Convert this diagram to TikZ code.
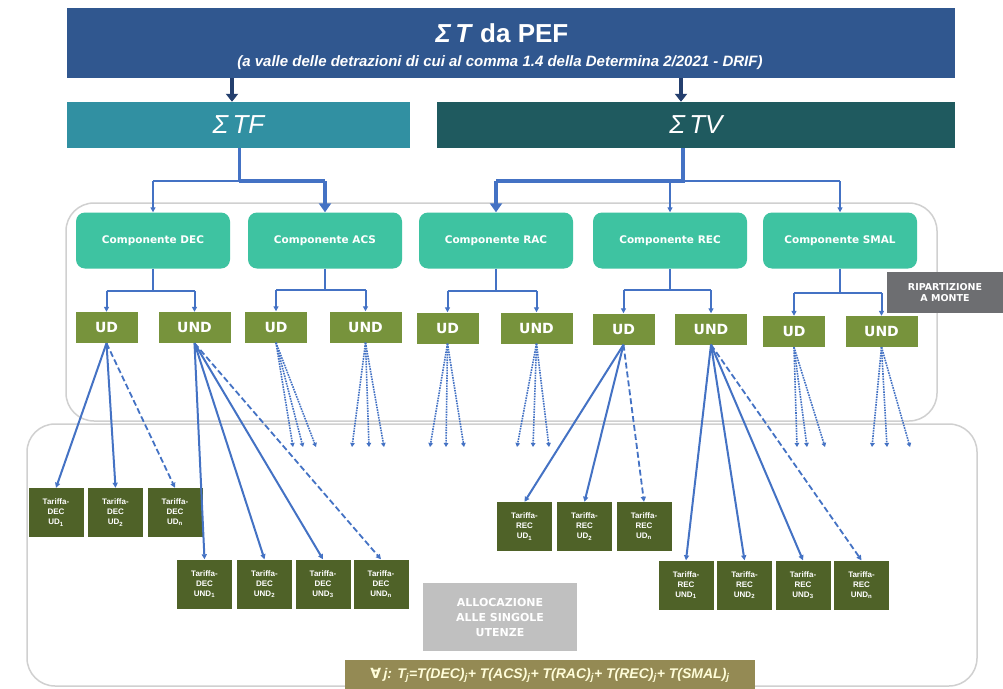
\documentclass[tikz,border=0pt]{standalone}
\usepackage{fontspec}
\setmainfont{Liberation Sans}
\newfontfamily\dejavu{DejaVu Sans}
\usetikzlibrary{arrows.meta}
\definecolor{topc}{HTML}{30578F}
\definecolor{tfc}{HTML}{3190A2}
\definecolor{tvc}{HTML}{1F5A5F}
\definecolor{compc}{HTML}{3EC3A1}
\definecolor{udc}{HTML}{77933C}
\definecolor{tarc}{HTML}{4F6228}
\definecolor{arrc}{HTML}{4472C4}
\definecolor{navy}{HTML}{243F6E}
\definecolor{ripc}{HTML}{6D6E71}
\definecolor{allc}{HTML}{C0C0C0}
\definecolor{formc}{HTML}{948A54}
\definecolor{frmc}{HTML}{D0D0D0}
\tikzset{
  comp/.style={fill=compc, rounded corners=9pt, minimum width=154pt, minimum height=56pt, inner sep=0pt, text=white, font=\dejavu\bfseries\fontsize{10.5}{12}\selectfont},
  udbox/.style={fill=udc, minimum height=31pt, inner sep=0pt, text=white, font=\dejavu\bfseries\fontsize{14}{16}\selectfont},
  ud/.style={udbox, minimum width=62pt},
  und/.style={udbox, minimum width=72pt},
  tar/.style={fill=tarc, minimum width=55pt, minimum height=49pt, inner sep=0pt, text=white, align=center, font=\bfseries\fontsize{8}{10}\selectfont},
  conn/.style={draw=arrc, line width=2pt, -{Triangle[length=5pt,width=5pt]}},
  thick conn/.style={draw=arrc, line width=4pt, -{Triangle[length=9pt,width=12pt]}},
  lin/.style={draw=arrc, line width=3pt},
  dconn/.style={draw=arrc, line width=1.8pt, dash pattern=on 6pt off 3pt, -{Triangle[length=5pt,width=5pt]}},
  dots/.style={draw=arrc, line width=1.6pt, densely dotted, -{Triangle[length=4pt,width=4.5pt]}},
  toparr/.style={draw=navy, line width=3.5pt, -{Triangle[length=8pt,width=12pt]}},
  frame/.style={draw=frmc, line width=1.5pt, rounded corners=28pt}
}
\begin{document}
\begin{tikzpicture}[x=1pt,y=-1pt]
\useasboundingbox (0,0) rectangle (1003,688);
\fill[white] (0,0) rectangle (1003,688);
% frames
\draw[frame] (66,203) rectangle (937,421);
\draw[frame] (27,424) rectangle (977,686);
% top boxes
\node[fill=topc, minimum width=888pt, minimum height=70pt, inner sep=0pt] (top) at (511,43) {};
\node[text=white, font=\bfseries\fontsize{26}{28}\selectfont] (ttl) at (502,33) {\textit{Σ\,T} da PEF};
\node[text=white, font=\bfseries\itshape\fontsize{15}{17}\selectfont] (sub) at (500,63) {(a valle delle detrazioni di cui al comma 1.4 della Determina 2/2021 - DRIF)};
\node[fill=tfc, minimum width=343pt, minimum height=46pt, inner sep=0pt, text=white, font=\itshape\fontsize{26}{28}\selectfont] (tf) at (238.5,125) {Σ\,TF};
\node[fill=tvc, minimum width=518pt, minimum height=46pt, inner sep=0pt, text=white, font=\itshape\fontsize{26}{28}\selectfont] (tv) at (696,125) {Σ\,TV};
\coordinate (ta1) at (232,78);
\coordinate (ta2) at (681,78);
\draw[toparr] (ta1) -- (ta1 |- tf.north);
\draw[toparr] (ta2) -- (ta2 |- tv.north);
% components
\node[comp] (dec) at (153,240.5) {Componente DEC};
\node[comp] (acs) at (325,240.5) {Componente ACS};
\node[comp] (rac) at (496,240.5) {Componente RAC};
\node[comp] (rec) at (670,240.5) {Componente REC};
\node[comp] (smal) at (840,240.5) {Componente SMAL};
% TF / TV branching
\coordinate (tfo) at (239,148);
\coordinate (tfj) at (239,181);
\draw[lin] (tfo) -- (tfj);
\draw[lin, line width=2.5pt] (tfj) -- (dec.north |- tfj);
\draw[conn] (dec.north |- tfj) -- (dec.north);
\draw[line width=4pt, draw=arrc] (tfj) -- (acs.north |- tfj);
\draw[thick conn] (acs.north |- tfj) -- (acs.north);
\coordinate (tvo) at (683,148);
\coordinate (tvj) at (683,181);
\draw[line width=4pt, draw=arrc] (tvo) -- (tvj) -- (rac.north |- tvj);
\draw[thick conn] (rac.north |- tvj) -- (rac.north);
\draw[lin, line width=2.5pt] (tvj) -- (smal.north |- tvj);
\draw[conn] (rec.north |- tvj) -- (rec.north);
\draw[conn] (smal.north |- tvj) -- (smal.north);
% UD / UND
\node[ud] (decud) at (106.5,327.5) {UD};
\node[und] (decund) at (194.5,327.5) {UND};
\node[ud] (acsud) at (276,327) {UD};
\node[und] (acsund) at (365.5,327) {UND};
\node[ud] (racud) at (447.5,328) {UD};
\node[und] (racund) at (536.5,328) {UND};
\node[ud] (recud) at (623.5,329) {UD};
\node[und] (recund) at (711,329) {UND};
\node[ud] (smalud) at (794,331.5) {UD};
\node[und] (smalund) at (881.5,331.5) {UND};
\foreach \c/\a/\b/\y in {dec/decud/decund/291, acs/acsud/acsund/290, rac/racud/racund/291, rec/recud/recund/290, smal/smalud/smalund/293}{
  \coordinate (\c j) at (\c.south |- 0,\y);
  \draw[lin, line width=2.5pt] (\c.south) -- (\c j);
  \draw[lin, line width=2.5pt] (\a.north |- \c j) -- (\b.north |- \c j);
  \draw[conn] (\a.north |- \c j) -- (\a.north);
  \draw[conn] (\b.north |- \c j) -- (\b.north);
}
% ripartizione
\node[fill=ripc, minimum width=116pt, minimum height=41pt, inner sep=0pt, text=white, align=center, font=\dejavu\bfseries\fontsize{9.5}{11.5}\selectfont] (rip) at (945,292.5) {RIPARTIZIONE\\A MONTE};
% tariff boxes DEC
\node[tar] (du1) at (56,512.5) {Tariffa-\\DEC\\UD\textsubscript{1}};
\node[tar] (du2) at (115.5,512.5) {Tariffa-\\DEC\\UD\textsubscript{2}};
\node[tar] (du3) at (175,512.5) {Tariffa-\\DEC\\UD\textsubscript{n}};
\node[tar] (dn1) at (204.5,584) {Tariffa-\\DEC\\UND\textsubscript{1}};
\node[tar] (dn2) at (264.5,584) {Tariffa-\\DEC\\UND\textsubscript{2}};
\node[tar] (dn3) at (323,584) {Tariffa-\\DEC\\UND\textsubscript{3}};
\node[tar] (dn4) at (381,584) {Tariffa-\\DEC\\UND\textsubscript{n}};
% tariff boxes REC
\node[tar] (ru1) at (524.5,526.5) {Tariffa-\\REC\\UD\textsubscript{1}};
\node[tar] (ru2) at (584.5,526.5) {Tariffa-\\REC\\UD\textsubscript{2}};
\node[tar] (ru3) at (644,526.5) {Tariffa-\\REC\\UD\textsubscript{n}};
\node[tar] (rn1) at (686,585) {Tariffa-\\REC\\UND\textsubscript{1}};
\node[tar] (rn2) at (744.5,585) {Tariffa-\\REC\\UND\textsubscript{2}};
\node[tar] (rn3) at (803,585) {Tariffa-\\REC\\UND\textsubscript{3}};
\node[tar] (rn4) at (861.5,585) {Tariffa-\\REC\\UND\textsubscript{n}};
% arrows to tariffs
\draw[conn] (decud.south) -- (du1.north);
\draw[conn] (decud.south) -- (du2.north);
\draw[dconn] (decud.south) -- (du3.north);
\draw[conn] (decund.south) -- (dn1.north);
\draw[conn] (decund.south) -- (dn2.north);
\draw[conn] (decund.south) -- (dn3.north);
\draw[dconn] (decund.south) -- (dn4.north);
\draw[conn] (recud.south) -- (ru1.north);
\draw[conn] (recud.south) -- (ru2.north);
\draw[dconn] (recud.south) -- (ru3.north);
\draw[conn] (recund.south) -- (rn1.north);
\draw[conn] (recund.south) -- (rn2.north);
\draw[conn] (recund.south) -- (rn3.north);
\draw[dconn] (recund.south) -- (rn4.north);
% dotted bundles
\foreach \n/\xa/\xb/\xc in {acsud/293/303/316, acsund/352/369/384, racud/430/446/464, racund/517/533/549, smalud/797/807/825, smalund/872/887/910}{
  \coordinate (\n e1) at (\xa,447);
  \coordinate (\n e2) at (\xb,447);
  \coordinate (\n e3) at (\xc,447);
  \draw[dots] (\n.south) -- (\n e1);
  \draw[dots] (\n.south) -- (\n e2);
  \draw[dots] (\n.south) -- (\n e3);
}
% allocazione
\node[fill=allc, minimum width=154pt, minimum height=68pt, inner sep=0pt, text=white, align=center, font=\dejavu\bfseries\fontsize{11}{15}\selectfont] (alloc) at (500,617) {ALLOCAZIONE\\ALLE SINGOLE\\UTENZE};
% formula
\node[fill=formc, minimum width=410pt, minimum height=30pt, inner sep=0pt, text=yellow!15, font=\bfseries\itshape\fontsize{14}{16}\selectfont] (form) at (550,675) {{\dejavu\itshape ∀}\,j: T\textsubscript{j}=T(DEC)\textsubscript{j}+ T(ACS)\textsubscript{j}+ T(RAC)\textsubscript{j}+ T(REC)\textsubscript{j}+ T(SMAL)\textsubscript{j}};
\end{tikzpicture}
\end{document}
